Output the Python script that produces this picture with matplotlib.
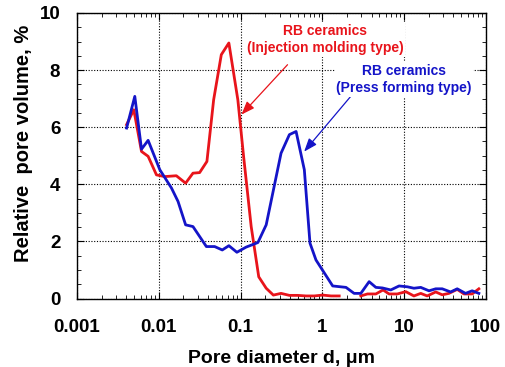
import numpy as np
import matplotlib
matplotlib.use("Agg")
import matplotlib.pyplot as plt
from matplotlib.ticker import LogLocator, MultipleLocator, NullFormatter, FixedLocator

plt.rcParams["font.family"] = ["Liberation Sans", "DejaVu Sans"]
plt.rcParams["font.weight"] = "bold"

# Press forming type (blue)
press_d = [0.00404, 0.00509, 0.00615, 0.00741, 0.0103, 0.0143, 0.0172, 0.0213, 0.0262,
           0.0382, 0.0482, 0.0598, 0.0720, 0.0902, 0.117, 0.163, 0.206, 0.313, 0.396,
           0.478, 0.603, 0.707, 0.837, 1.34, 1.95, 2.45, 2.96, 3.74, 4.52, 5.44, 6.88,
           8.69, 11.0, 13.2, 16.0, 20.2, 24.4, 29.3, 37.1, 44.7, 56.5, 68.1, 82.2]
press_v = [5.97, 7.08, 5.23, 5.54, 4.51, 3.87, 3.40, 2.58, 2.52,
           1.82, 1.82, 1.70, 1.85, 1.62, 1.80, 1.96, 2.58, 5.09, 5.74,
           5.85, 4.51, 1.94, 1.35, 0.44, 0.39, 0.18, 0.18, 0.59, 0.39, 0.37, 0.30,
           0.44, 0.41, 0.36, 0.39, 0.27, 0.34, 0.34, 0.23, 0.34, 0.18, 0.27, 0.18]

# Injection molding type (red), gap between ~1.6 and ~3 um
inj_d = [0.00404, 0.00495, 0.00615, 0.00741, 0.00937, 0.0118, 0.0164, 0.0213, 0.0262,
         0.0316, 0.0388, 0.0469, 0.0582, 0.0720, 0.0927, 0.109, 0.135, 0.167, 0.206,
         0.252, 0.313, 0.396, 0.500, 0.632, 0.798, 1.01, 1.28, 1.61, 2.2,
         2.96, 3.57, 4.52, 5.54, 6.56, 8.28, 10.5, 13.2, 16.0, 19.2, 24.4, 29.3,
         35.4, 44.7, 54.0, 68.1, 82.2]
inj_v = [6.09, 6.61, 5.15, 4.98, 4.33, 4.27, 4.30, 4.04, 4.39,
         4.41, 4.80, 6.96, 8.54, 8.95, 6.96, 4.98, 2.52, 0.76, 0.36,
         0.12, 0.18, 0.11, 0.11, 0.09, 0.09, 0.12, 0.09, 0.09, np.nan,
         0.09, 0.16, 0.16, 0.30, 0.16, 0.16, 0.24, 0.09, 0.18, 0.09, 0.23, 0.13,
         0.18, 0.32, 0.16, 0.16, 0.34]

RED = "#e8141b"
BLUE = "#1414c8"

fig = plt.figure(figsize=(5.05, 3.67), dpi=100)
ax = fig.add_axes([0.1525, 0.1866, 0.8095, 0.778])

ax.plot(inj_d, inj_v, color=RED, lw=2.0, zorder=3)
ax.plot(press_d, press_v, color=BLUE, lw=2.0, zorder=3)

ax.set_xscale("log")
ax.set_xlim(0.001, 100)
ax.set_ylim(0, 10)
ax.xaxis.set_major_locator(FixedLocator([0.001, 0.01, 0.1, 1, 10, 100]))
ax.set_xticklabels(["0.001", "0.01", "0.1", "1", "10", "100"])
ax.xaxis.set_minor_locator(LogLocator(base=10, subs=np.arange(2, 10)))
ax.xaxis.set_minor_formatter(NullFormatter())
ax.yaxis.set_major_locator(MultipleLocator(2))
ax.yaxis.set_minor_locator(MultipleLocator(0.5))

ax.tick_params(which="both", direction="in", top=True, right=True, labelsize=13.5)
ax.tick_params(axis="x", which="major", pad=15)
ax.tick_params(axis="y", which="major", pad=12)
ax.tick_params(which="major", length=5, width=0.8)
ax.tick_params(which="minor", length=3, width=0.6)
ax.grid(True, which="major", color="black", linestyle=(0, (1, 1.5)), lw=0.8)
for s in ax.spines.values():
    s.set_linewidth(1.0)

ax.set_xlabel("Pore diameter d, \u03bcm", fontsize=14, fontweight="bold", labelpad=10)
ax.set_ylabel("Relative  pore volume, %", fontsize=14.5, fontweight="bold")
ax.yaxis.set_label_coords(-0.108, 0.545)

ax.text(1.08, 9.07, "RB ceramics\n(Injection molding type)", color=RED, fontsize=10,
        fontweight="bold", ha="center", va="center", linespacing=1.3, zorder=4,
        bbox=dict(facecolor="white", edgecolor="none", pad=1))
ax.annotate("", xy=(0.0973, 6.37), xytext=(0.396, 8.26),
            arrowprops=dict(arrowstyle="-|>,head_length=0.8,head_width=0.3", color=RED, lw=0.9))
ax.text(10.0, 7.67, "RB ceramics\n(Press forming type)", color=BLUE, fontsize=10,
        fontweight="bold", ha="center", va="center", linespacing=1.3, zorder=4,
        bbox=dict(facecolor="white", edgecolor="none", pad=1))
ax.annotate("", xy=(0.570, 5.07), xytext=(2.32, 7.14),
            arrowprops=dict(arrowstyle="-|>,head_length=0.8,head_width=0.3", color=BLUE, lw=0.9))

fig.savefig("out.png", dpi=100)
